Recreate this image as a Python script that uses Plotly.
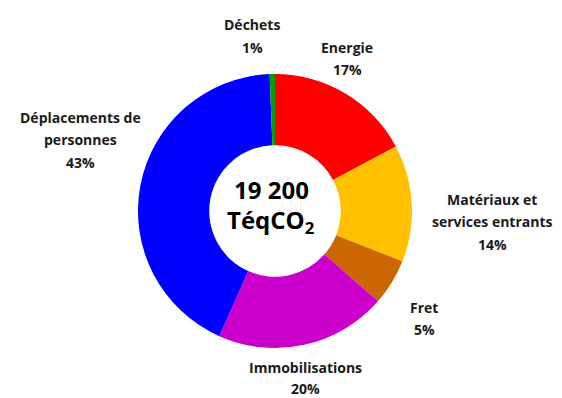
import plotly.graph_objects as go

labels = ["Energie", "Matériaux et<br>services entrants", "Fret", "Immobilisations",
          "Déplacements de<br>personnes", "Déchets"]
values = [3300, 2650, 1050, 3880, 8200, 120]  # tonnes eq CO2, total 19 200
colors = ["#FF0000", "#FFC000", "#CC6600", "#CC00CC", "#0000FF", "#00A000"]
center_text = ["19 200", "TéqCO<sub>2</sub>"]

total = sum(values)
pcts = [round(v / total * 100) for v in values]

W, H = 562, 398
cx, cy, r = 275, 211, 137

fig = go.Figure(go.Pie(
    labels=labels, values=values, sort=False, direction="clockwise", rotation=0,
    hole=0.48, marker=dict(colors=colors, line=dict(width=0)),
    textinfo="none", hoverinfo="label+percent", showlegend=False,
    domain=dict(x=[(cx - r) / W, (cx + r) / W], y=[(H - cy - r) / H, (H - cy + r) / H]),
))

# label anchor positions: (x centre, y centre of first line, line gap) in pixels
label_pos = [(347, 47, 22.5), (492, 199, 22.5), (424, 307, 22.5), (305, 367, 21),
             (80, 117, 22.5), (252, 25, 22.5)]
font_lab = dict(family="Open Sans", size=14, color="#1a1a1a")
for lab, p, (x, y, gap) in zip(labels, pcts, label_pos):
    lines = lab.split("<br>") + [f"{p}%"]
    for i, ln in enumerate(lines):
        fig.add_annotation(
            x=x / W, y=1 - (y + i * gap) / H, xref="paper", yref="paper",
            xanchor="center", yanchor="middle", text=f"<b>{ln}</b>", showarrow=False,
            font=font_lab,
        )

for i, ln in enumerate(center_text):
    fig.add_annotation(
        x=271 / W, y=1 - (190 + i * 31) / H, xref="paper", yref="paper",
        xanchor="center", yanchor="middle", text=f"<b>{ln}</b>", showarrow=False,
        font=dict(family="Open Sans", size=24, color="#000000"),
    )

fig.update_layout(width=W, height=H, margin=dict(l=0, r=0, t=0, b=0),
                  paper_bgcolor="white", plot_bgcolor="white")
fig.write_html("out.html")
